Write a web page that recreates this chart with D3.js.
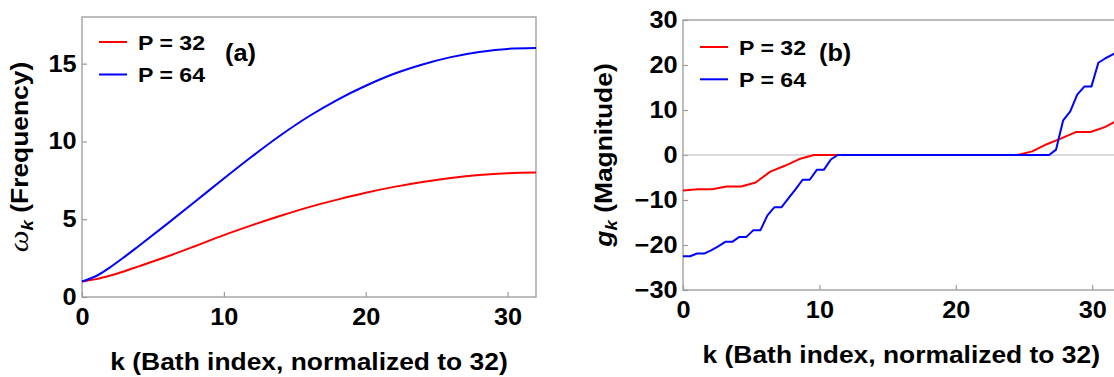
<!DOCTYPE html>
<html>
<head>
<meta charset="utf-8">
<script src="https://cdn.jsdelivr.net/npm/d3@7"></script>
<style>
  html, body { margin: 0; padding: 0; background: #fff; }
  svg { display: block; }
  text { font-family: "Liberation Sans", Arial, sans-serif; font-weight: bold; fill: #000; }
</style>
</head>
<body>
<svg id="chart" width="1114" height="377"></svg>
<script>
// ---- Panel (a): bath mode frequencies ----
const kSmooth = [0, 1, 2, 3, 4, 6, 8, 10, 12, 14, 16, 18, 20, 22, 24, 26, 28, 30, 32];
const freqP32 = [1.0, 1.15, 1.38, 1.66, 1.97, 2.6, 3.28, 3.98, 4.62, 5.22, 5.78, 6.26, 6.7, 7.08, 7.4, 7.65, 7.84, 7.96, 8.0];
const freqP64 = [1.0, 1.35, 1.92, 2.58, 3.28, 4.7, 6.15, 7.62, 9.05, 10.4, 11.62, 12.68, 13.58, 14.35, 14.95, 15.42, 15.75, 15.95, 16.0];

// ---- Panel (b): coupling magnitudes ----
const kP32 = [0, 1.07, 2.13, 3.2, 4.27, 5.33, 6.4, 7.47, 8.53, 9.6, 10.67, 11.73, 12.8, 13.87, 14.93, 16,
  17.07, 18.13, 19.2, 20.27, 21.33, 22.4, 23.47, 24.53, 25.6, 26.67, 27.73, 28.8, 29.87, 30.93, 32];
const gP32 = [-7.9, -7.6, -7.6, -7.0, -7.0, -6.1, -3.7, -2.4, -0.9, 0, 0, 0, 0, 0, 0, 0,
  0, 0, 0, 0, 0, 0, 0, 0, 0.8, 2.4, 3.7, 5.1, 5.1, 6.2, 8.0];

const kP64 = [0, 0.52, 1.03, 1.55, 2.06, 2.58, 3.1, 3.61, 4.13, 4.65, 5.16, 5.68, 6.19, 6.71, 7.23, 7.74,
  8.26, 8.77, 9.29, 9.81, 10.32, 10.84, 11.35, 11.87, 12.39, 12.9, 13.42, 13.94, 14.45, 14.97, 15.48, 16.0,
  16.52, 17.03, 17.55, 18.06, 18.58, 19.1, 19.61, 20.13, 20.65, 21.16, 21.68, 22.19, 22.71, 23.23, 23.74, 24.26,
  24.77, 25.29, 25.81, 26.32, 26.84, 27.35, 27.87, 28.39, 28.9, 29.42, 29.94, 30.45, 30.97, 31.48, 32.0];
const gP64 = [-22.5, -22.5, -21.9, -21.9, -21.2, -20.3, -19.3, -19.3, -18.2, -18.2, -16.7, -16.7, -13.4, -11.6, -11.6, -9.6,
  -7.6, -5.5, -5.5, -3.3, -3.3, -1.0, 0, 0, 0, 0, 0, 0, 0, 0, 0, 0,
  0, 0, 0, 0, 0, 0, 0, 0, 0, 0, 0, 0, 0, 0, 0, 0,
  0, 0, 0, 0, 0, 1.2, 7.7, 9.7, 13.4, 15.2, 15.2, 20.5, 21.5, 22.3, 23.1];

const seriesNames = ["P = 32", "P = 64"];
const seriesColors = ["#ff0000", "#0000ff"];
const ticksA_x = [0, 10, 20, 30];
const ticksA_y = [0, 5, 10, 15];
const ticksB_x = [0, 10, 20, 30];
const ticksB_y = [-30, -20, -10, 0, 10, 20, 30];
const xTitle = "k (Bath index, normalized to 32)";

const svg = d3.select("#chart");
const frameColor = "#9a9a9a";
const tickFont = 23;
const stretch = "scale(1.1,1)";   // wide bold lettering

function fmt(v) { return v < 0 ? "\u2212" + Math.abs(v) : String(v); }

function label(parent, x, y, size, txt, extra) {
  return parent.append("text").attr("transform", `translate(${x},${y}) ${extra || ""} ${stretch}`)
    .attr("font-size", size).text(txt);
}

function drawPanel(opts) {
  const { x, y, xTicks, yTicks, series, legend, tag, tagPos, yLabel, yLabelX, zeroLine } = opts;
  const g = svg.append("g");
  const [x0, x1] = x.range();
  const [y0, y1] = y.range();

  // axes with inward tick marks
  const ax = g.append("g").attr("transform", `translate(0,${y0})`)
    .call(d3.axisBottom(x).tickValues(xTicks).tickSize(-5).tickPadding(12).tickFormat(fmt));
  const ay = g.append("g").attr("transform", `translate(${x0},0)`)
    .call(d3.axisLeft(y).tickValues(yTicks).tickSize(-5).tickPadding(5).tickFormat(fmt));
  [ax, ay].forEach(a => {
    a.select(".domain").remove();
    a.selectAll(".tick line").attr("stroke", frameColor).attr("stroke-width", 1.2);
    a.selectAll(".tick text").attr("font-size", tickFont).attr("font-family", "Liberation Sans, Arial, sans-serif")
      .attr("font-weight", "bold").attr("fill", "#000").attr("transform", stretch);
  });

  if (zeroLine) {
    g.append("line").attr("x1", x0).attr("x2", x1).attr("y1", y(0)).attr("y2", y(0))
      .attr("stroke", "#b8b8b8").attr("stroke-width", 1.2);
  }

  // frame
  g.append("rect").attr("x", x0).attr("y", y1).attr("width", x1 - x0).attr("height", y0 - y1)
    .attr("fill", "none").attr("stroke", frameColor).attr("stroke-width", 1.3);

  // data lines
  series.forEach(s => {
    const line = d3.line().x(d => x(d[0])).y(d => y(d[1])).curve(s.curve);
    g.append("path").datum(d3.zip(s.k, s.v)).attr("d", line)
      .attr("fill", "none").attr("stroke", s.color).attr("stroke-width", 2)
      .attr("stroke-linejoin", "round");
  });

  // legend
  legend.items.forEach((it, i) => {
    const ly = legend.y + i * legend.dy;
    g.append("line").attr("x1", legend.x).attr("x2", legend.x + 28).attr("y1", ly).attr("y2", ly)
      .attr("stroke", it.color).attr("stroke-width", 2);
    label(g, legend.x + 39, ly + 7.5, 21, it.name);
  });
  label(g, tagPos[0], tagPos[1], 23, tag);

  // axis titles
  label(g, (x0 + Math.min(x1, 1119.5)) / 2, y0 + 72.5, 24, xTitle).attr("text-anchor", "middle");

  const yl = g.append("text")
    .attr("transform", `translate(${yLabelX},${(y0 + y1) / 2}) rotate(-90) ${stretch}`)
    .attr("text-anchor", "middle").attr("font-size", 24);
  yLabel(yl);
}

// Panel (a)
const xA = d3.scaleLinear().domain([0, 32]).range([82, 536]);
const yA = d3.scaleLinear().domain([0, 18]).range([297, 17]);
drawPanel({
  x: xA, y: yA, xTicks: ticksA_x, yTicks: ticksA_y,
  series: [
    { k: kSmooth, v: freqP32, color: seriesColors[0], curve: d3.curveMonotoneX },
    { k: kSmooth, v: freqP64, color: seriesColors[1], curve: d3.curveMonotoneX }
  ],
  legend: { x: 99, y: 42, dy: 32.5, items: seriesNames.map((n, i) => ({ name: n, color: seriesColors[i] })) },
  tag: "(a)", tagPos: [225, 61],
  yLabelX: 28,
  yLabel: t => {
    t.append("tspan").attr("font-family", "Liberation Serif, serif").attr("font-style", "italic")
      .attr("font-weight", "normal").attr("font-size", 28).text("\u03c9");
    t.append("tspan").attr("font-style", "italic").attr("font-size", 17).attr("dy", 5).text("k");
    t.append("tspan").attr("dy", -5).text(" (Frequency)");
  }
});

// Panel (b)
const xB = d3.scaleLinear().domain([0, 32]).range([683, 1119.5]);
const yB = d3.scaleLinear().domain([-30, 30]).range([290, 20]);
drawPanel({
  x: xB, y: yB, xTicks: ticksB_x, yTicks: ticksB_y, zeroLine: true,
  series: [
    { k: kP32, v: gP32, color: seriesColors[0], curve: d3.curveLinear },
    { k: kP64, v: gP64, color: seriesColors[1], curve: d3.curveLinear }
  ],
  legend: { x: 700, y: 47, dy: 32.3, items: seriesNames.map((n, i) => ({ name: n, color: seriesColors[i] })) },
  tag: "(b)", tagPos: [819, 61],
  yLabelX: 612,
  yLabel: t => {
    t.append("tspan").attr("font-style", "italic").text("g");
    t.append("tspan").attr("font-style", "italic").attr("font-size", 17).attr("dy", 5).text("k");
    t.append("tspan").attr("dy", -5).text(" (Magnitude)");
  }
});
</script>
</body>
</html>
